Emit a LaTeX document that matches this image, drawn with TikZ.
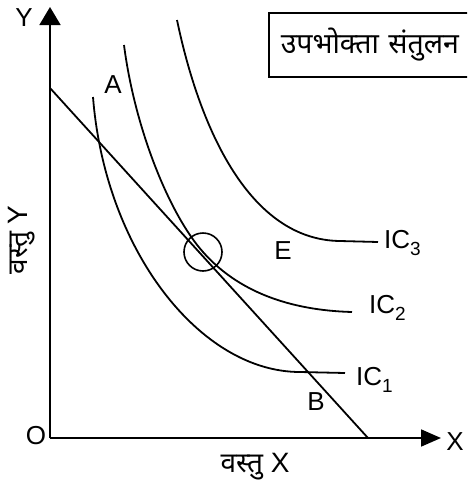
\documentclass[tikz,border=0pt]{standalone}
\usepackage{fontspec}
\setmainfont{Liberation Sans}
\newfontfamily\deva[Script=Devanagari]{Noto Sans}
\usetikzlibrary{arrows.meta}
\tikzset{
  line/.style={line width=1.8pt},
  axis/.style={line width=1.8pt},
  lbl/.style={font=\fontsize{26}{28}\selectfont, inner sep=0pt},
  iclbl/.style={font=\fontsize{26}{28}\selectfont, inner sep=0pt, anchor=west},
}
\newcommand{\icsub}[1]{IC\raisebox{-7pt}{\fontsize{19}{19}\selectfont #1}}
\begin{document}
\begin{tikzpicture}[x=1pt,y=-1pt]
\useasboundingbox (0,0) rectangle (467,485);
\clip (0,0) rectangle (467,485);
% axes
\coordinate (O) at (50,438);
\coordinate (ytip) at (50,7);
\coordinate (xtip) at (441,438);
\draw[axis, -{Triangle[length=18pt,width=21pt]}] (O) -- (ytip);
\draw[axis, -{Triangle[length=20pt,width=17pt]}] (O) -- (xtip);
\node[lbl] (Ylab) at (24,18) {Y};
\node[lbl] (Xlab) at (455,442) {X};
\node[lbl] (Olab) at (36,436) {O};
% budget line
\coordinate (b1) at (50,88);
\coordinate (b2) at (368,438);
\draw[line] (b1) -- (b2);
% indifference curves
\draw[line] (93,97) .. controls (105,250) and (200,372) .. (300,372) -- (345,373);
\draw[line] (124,45) .. controls (135,130) and (170,215) .. (203,252)
            .. controls (233,286) and (280,310) .. (352,312);
\draw[line] (177,20) .. controls (200,130) and (250,240) .. (340,241) -- (378,242);
\node[iclbl] (ic3) at (384,243) {\icsub{3}};
\node[iclbl] (ic2) at (369,308) {\icsub{2}};
\node[iclbl] (ic1) at (356,380) {\icsub{1}};
% points
\node[draw, circle, line width=1.6pt, minimum size=38pt, inner sep=0pt] (Ecirc) at (203,252) {};
\node[lbl] (Elab) at (283,251) {E};
\node[lbl] (Alab) at (113,85) {A};
\node[lbl] (Blab) at (316,402) {B};
% axis titles
\node[inner sep=0pt, rotate=90, font=\fontsize{28}{30}\selectfont] (ytitle) at (22,240) {{\deva वस्तु} Y};
\node[inner sep=0pt, font=\fontsize{28}{30}\selectfont] (xtitle) at (255,467) {{\deva वस्तु} X};
% title box
\node[draw, line width=1.5pt, anchor=west, minimum height=64pt, text width=240pt, inner xsep=12pt, align=left, font=\fontsize{28.5}{31}\selectfont\deva] (title) at (268,45) {उपभोक्ता संतुलन};
\end{tikzpicture}
\end{document}
